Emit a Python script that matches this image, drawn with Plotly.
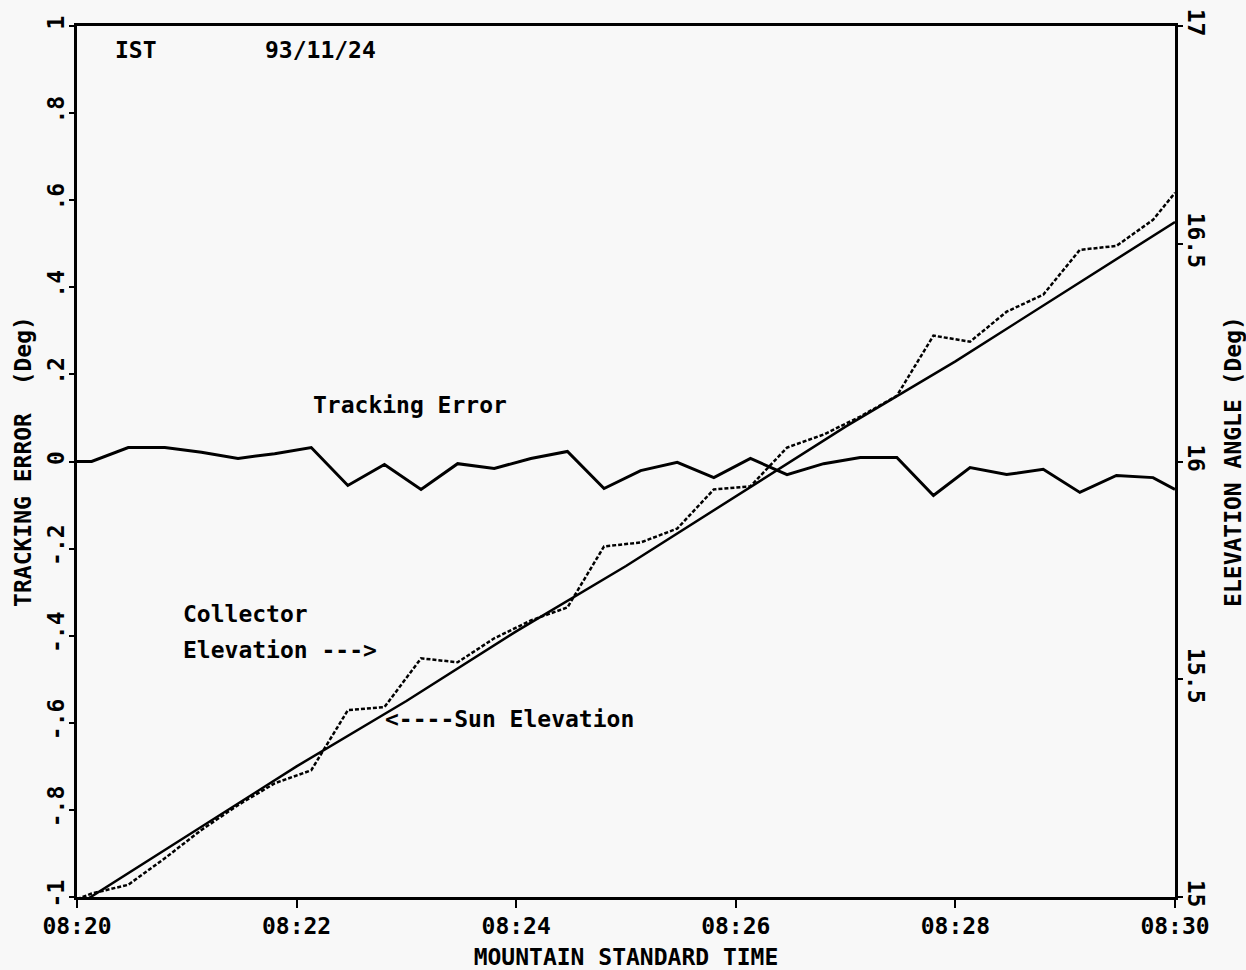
import pandas as pd
import plotly.graph_objects as go

DAY = "1993-11-24"
BG = "#f8f8f8"
INK = "black"
FONT = "DejaVu Sans Mono"

# Sample clock: start of run, then the 20 s logger samples, then end of run
logger_times = [t.strftime("%H:%M:%S") for t in
                pd.date_range(f"{DAY} 08:20:08", periods=30, freq="20s")]
sample_times = ["08:20:00"] + logger_times + ["08:30:00"]

# Tracking error (deg), left axis
tracking_error = [0.000, 0.000, 0.032, 0.032, 0.021, 0.007, 0.018, 0.032,
                  -0.055, -0.007, -0.064, -0.005, -0.016, 0.007, 0.023, -0.062,
                  -0.021, -0.002, -0.037, 0.007, -0.030, -0.005, 0.009, 0.009,
                  -0.078, -0.014, -0.030, -0.018, -0.071, -0.032, -0.037, -0.064]

# Collector elevation (deg), right axis
collector_elev = [14.995, 15.008, 15.028, 15.089, 15.154, 15.211, 15.261, 15.291,
                  15.429, 15.436, 15.548, 15.539, 15.594, 15.635, 15.665, 15.805,
                  15.814, 15.846, 15.936, 15.943, 16.032, 16.062, 16.103, 16.151,
                  16.289, 16.275, 16.344, 16.383, 16.486, 16.495, 16.555, 16.617]

# Computed sun elevation (deg) at each minute, right axis
sun_times = ["08:20", "08:21", "08:22", "08:23", "08:24", "08:25",
             "08:26", "08:27", "08:28", "08:29", "08:30"]
sun_elev = [14.98, 15.14, 15.30, 15.45, 15.61, 15.76,
            15.92, 16.08, 16.23, 16.39, 16.55]

# Axis ticks
err_ticks = [-1, -0.8, -0.6, -0.4, -0.2, 0, 0.2, 0.4, 0.6, 0.8, 1]
err_labels = ["-1", "-.8", "-.6", "-.4", "-.2", "0", ".2", ".4", ".6", ".8", "1"]
elev_ticks = [15, 15.5, 16, 16.5, 17]
elev_labels = ["15", "15.5", "16", "16.5", "17"]


def stamp(hms):
    return f"{DAY} {hms}"


fig = go.Figure()

fig.add_trace(go.Scatter(
    x=[stamp(t) for t in sample_times], y=tracking_error,
    mode="lines", line=dict(color=INK, width=3), yaxis="y",
    name="Tracking Error"))

fig.add_trace(go.Scatter(
    x=[stamp(t) for t in sun_times], y=sun_elev,
    mode="lines", line=dict(color=INK, width=2.5), yaxis="y2",
    name="Sun Elevation"))

fig.add_trace(go.Scatter(
    x=[stamp(t) for t in sample_times], y=collector_elev,
    mode="lines", line=dict(color=INK, width=2.5, dash="4px,2px"), yaxis="y2",
    name="Collector Elevation"))

txt = dict(family=FONT, size=23, color=INK, weight="bold")

PL, PR, PT, PB = 77, 1175, 26, 897


def note(text, px, py):
    # place text by its left edge, in paper fractions of the plot frame
    fig.add_annotation(text=text, xref="paper", yref="paper",
                       x=(px - PL) / (PR - PL), y=(PB - py) / (PB - PT),
                       xanchor="left", yanchor="middle",
                       showarrow=False, font=txt)


note("IST", 113, 50)
note("93/11/24", 263, 50)
note("Tracking Error", 311, 405)
note("Collector", 181, 614)
note("Elevation --->", 181, 650)
note("<----Sun Elevation", 383, 719)

axis_common = dict(showgrid=False, zeroline=False, showline=True,
                   linecolor=INK, linewidth=3, ticks="outside",
                   tickcolor=INK, tickwidth=2, tickfont=txt,
                   automargin=False)

fig.update_layout(
    width=1246, height=970,
    margin=dict(l=PL, r=1246 - PR, t=PT, b=970 - PB),
    paper_bgcolor=BG, plot_bgcolor=BG,
    showlegend=False,
    font=txt,
    xaxis=dict(**axis_common, type="date",
               range=[stamp("08:20:00"), stamp("08:30:00")],
               tick0=stamp("08:20:00"), dtick=120000, tickformat="%H:%M",
               ticklen=8, mirror=True, ticklabelstandoff=-2,
               title=dict(text="MOUNTAIN STANDARD TIME", font=txt, standoff=12)),
    yaxis=dict(**axis_common, range=[-1, 1], tickvals=err_ticks,
               ticktext=err_labels, tickangle=-90, ticklen=5,
               ticklabelstandoff=-4,
               title=dict(text="TRACKING ERROR  (Deg)", font=txt, standoff=5)),
    yaxis2=dict(**axis_common, overlaying="y", side="right", range=[15, 17],
                tickvals=elev_ticks, ticktext=elev_labels, tickangle=90,
                ticklen=5, ticklabelstandoff=-4,
                title=dict(text="ELEVATION ANGLE (Deg)", font=txt, standoff=23)),
)

fig.write_html("out.html")
